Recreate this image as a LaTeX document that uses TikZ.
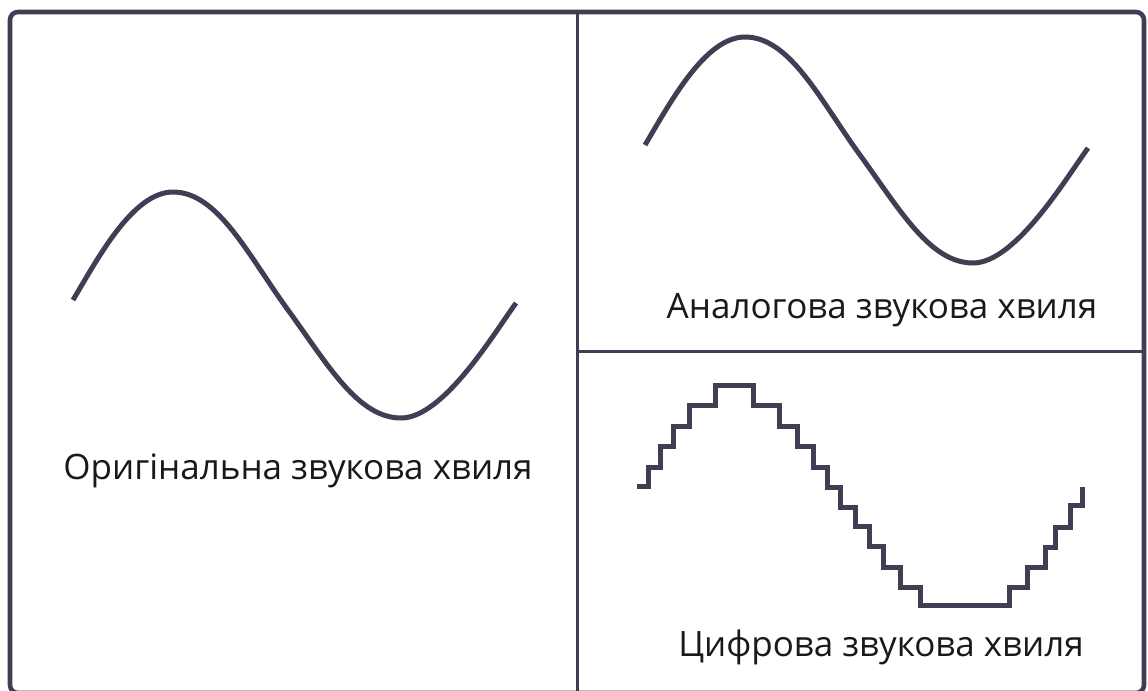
\documentclass[tikz,border=0pt]{standalone}
\usepackage{fontspec}
\setmainfont{Open Sans}
\usetikzlibrary{positioning}

\definecolor{slate}{RGB}{64,62,82}

\begin{document}
\begin{tikzpicture}[
  x=0.5pt, y=-0.5pt,
  frame/.style={draw=slate, line width=2.3pt, rounded corners=4pt},
  divider/.style={draw=slate, line width=1.5pt},
  wave/.style={draw=slate, line width=2.5pt},
  stairs/.style={draw=slate, line width=2.5pt, line join=miter},
  lbl/.style={font=\fontsize{17.5}{21}\selectfont, text=black!90, anchor=base, inner sep=0pt},
  sine/.pic={
    \draw[wave] (0,0) .. controls (25,-42) and (60,-108) .. (100,-108)
      .. controls (145,-108) and (175,-45) .. (215,10)
      .. controls (255,65) and (285,118) .. (328,118)
      .. controls (370,118) and (420,35) .. (443,3);
  },
]
\useasboundingbox (0,0) rectangle (1148,691);

% --- outer frame and dividers ---
\draw[frame] (10,12) rectangle (1144,693);
\coordinate (vtop) at (577,12);
\coordinate (vbot) at (577,691);
\coordinate (hleft) at (577,351);
\coordinate (hright) at (1144,351);
\draw[divider] (vtop) -- (vbot);
\draw[divider] (hleft) -- (hright);

% --- original wave (left) ---
\pic at (73,300) {sine};
\node[lbl] (orig) at (298,479) {Оригінальна звукова хвиля};

% --- analogue wave (top right) ---
\pic at (645,145) {sine};
\node[lbl] (analog) at (882,318) {Аналогова звукова хвиля};

% --- digital wave (bottom right) ---
\draw[stairs] (637,486) -| (648,467) -| (660,446) -| (673,426) -| (689,405)
  -| (715,385) -| (753,405) -| (779,426) -| (797,446) -| (813,467)
  -| (827,487) -| (840,507) -| (855,526) -| (869,546) -| (883,567)
  -| (900,587) -| (920,605) -| (1009,587) -| (1027,567) -| (1045,547)
  -| (1055,527) -| (1070,505) -| (1082,487);
\node[lbl] (digit) at (881,656) {Цифрова звукова хвиля};

\end{tikzpicture}
\end{document}
